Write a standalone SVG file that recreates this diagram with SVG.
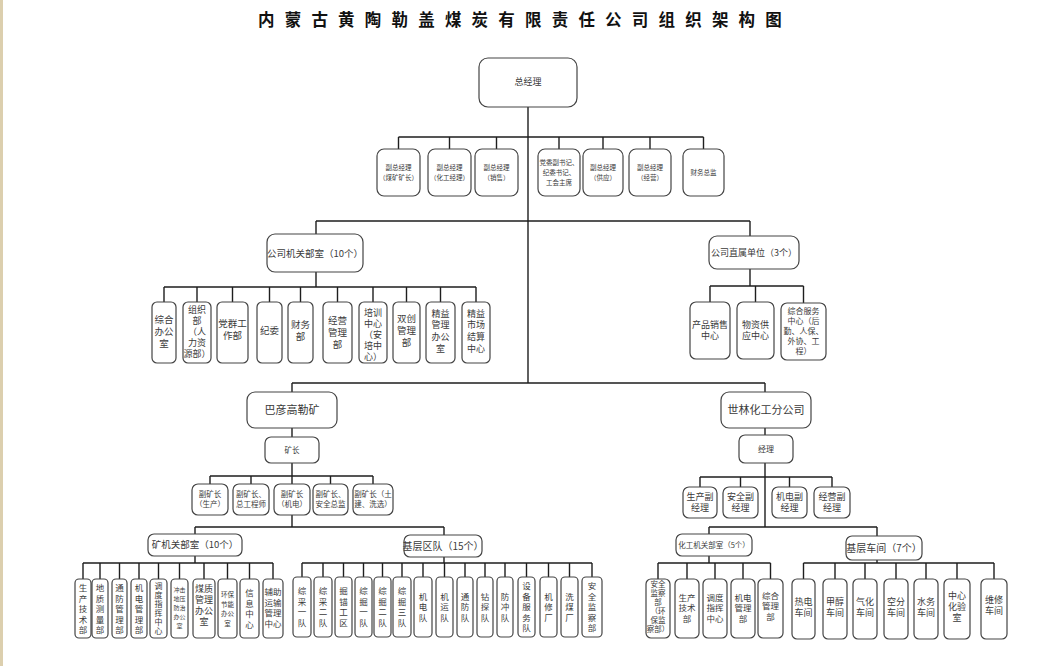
<svg xmlns="http://www.w3.org/2000/svg" width="1040" height="666" viewBox="0 0 1040 666">
<style>
.b{fill:#fff;stroke:#444;stroke-width:1.2}
.t{font-family:"Noto Sans CJK SC","Noto Sans CJK JP",sans-serif;fill:#3a3a3a;text-anchor:middle}
.c{stroke:#1e1e1e;stroke-width:1.4;fill:none}
.ttl{font-family:"Noto Sans CJK SC","Noto Sans CJK JP",sans-serif;fill:#111;font-weight:bold}
</style>
<rect width="1040" height="666" fill="#fff"/>
<rect x="0" y="0" width="3" height="666" fill="#dccfae"/>
<text class="ttl" x="258" y="26" font-size="16.5" letter-spacing="10.2">内蒙古黄陶勒盖煤炭有限责任公司组织架构图</text>

<g id="connectors" class="c">
<path d="M528 107V383 M398.5 137H703.5 M398.5 137V149 M449.5 137V149 M496.5 137V149 M559 137V149 M603 137V149 M650 137V149 M703.5 137V149
M316 221H750 M316 221V234 M750 221V236
M316 272V287 M164 287H476 M164 287V302 M197 287V302 M232.5 287V302 M269.5 287V302 M300.5 287V302 M337.5 287V302 M373 287V302 M406.5 287V302 M440.5 287V302 M476 287V302
M750 269V286 M710 286H803.5 M710 286V302 M755.5 286V302 M803.5 286V303
M292 383H765 M292 383V392 M765 383V392
M292 428V437 M292 463V484 M210 476H373 M210 476V484 M251 476V484 M330.5 476V484 M373 476V484 M292 515V527
M195 527H444 M195 527V534 M444 527V535
M195 556V563 M83 563H273 M83 563V579 M100 563V579 M119.5 563V579 M139 563V579 M158.5 563V579 M179.5 563V579 M204 563V579 M227.5 563V579 M249.5 563V579 M273 563V579
M444 557V563 M302 563H592 M302 563V577 M323 563V577 M343.5 563V577 M363.5 563V577 M382.5 563V577 M402 563V577 M423 563V577 M444.5 563V577 M465 563V577 M485 563V577 M505 563V577 M526.5 563V577 M548.5 563V577 M569.5 563V577 M592 563V577
M765 428V435 M765 463V527 M700 477H832 M700 477V487 M740.5 477V487 M789.5 477V487 M832 477V487
M709 527H877 M709 527V534 M877 527V536
M709 556V563 M658 563H770.5 M658 563V579 M687 563V579 M715 563V579 M743 563V579 M770.5 563V579
M877 560V563 M803.5 563H994 M803.5 563V579 M835 563V579 M865 563V579 M896 563V579 M926 563V579 M957 563V579 M994 563V579"/>
</g>

<g id="gm"><rect class="b" x="479" y="58" width="98" height="49" rx="9"/><text class="t" x="528" y="85" font-size="9">总经理</text></g>

<g id="e1"><rect class="b" x="377" y="149" width="43" height="47" rx="7"/><text class="t" font-size="6.5"><tspan x="398.5" y="169.8">副总经理</tspan><tspan x="398.5" y="179.8">（煤矿矿长）</tspan></text></g>
<g id="e2"><rect class="b" x="428" y="149" width="43" height="47" rx="7"/><text class="t" font-size="6.5"><tspan x="449.5" y="169.8">副总经理</tspan><tspan x="449.5" y="179.8">（化工经理）</tspan></text></g>
<g id="e3"><rect class="b" x="475" y="149" width="43" height="47" rx="7"/><text class="t" font-size="6.5"><tspan x="496.5" y="169.8">副总经理</tspan><tspan x="496.5" y="179.8">（销售）</tspan></text></g>
<g id="e4"><rect class="b" x="538" y="149" width="42" height="47" rx="7"/><text class="t" font-size="6.5"><tspan x="559" y="164.8">党委副书记、</tspan><tspan x="559" y="174.8">纪委书记、</tspan><tspan x="559" y="184.8">工会主席</tspan></text></g>
<g id="e5"><rect class="b" x="583" y="149" width="40" height="47" rx="7"/><text class="t" font-size="6.5"><tspan x="603" y="169.8">副总经理</tspan><tspan x="603" y="179.8">（供应）</tspan></text></g>
<g id="e6"><rect class="b" x="629" y="149" width="42" height="47" rx="7"/><text class="t" font-size="6.5"><tspan x="650" y="169.8">副总经理</tspan><tspan x="650" y="179.8">（经营）</tspan></text></g>
<g id="e7"><rect class="b" x="683" y="149" width="41" height="47" rx="7"/><text class="t" x="703.5" y="174.8" font-size="6.5">财务总监</text></g>

<g id="jg"><rect class="b" x="267" y="234" width="96" height="38" rx="8"/><text class="t" x="315" y="256.5" font-size="9.5">公司机关部室（10个）</text></g>
<g id="k1"><rect class="b" x="152" y="302" width="24" height="61" rx="5"/><text class="t" font-size="9.5"><tspan x="164" y="322.5">综合</tspan><tspan x="164" y="334.5">办公</tspan><tspan x="164" y="346.5">室</tspan></text></g>
<g id="k2"><rect class="b" x="183" y="302" width="28" height="61" rx="5"/><text class="t" font-size="9"><tspan x="197" y="313.2">组织</tspan><tspan x="197" y="324.2">部</tspan><tspan x="197" y="335.2">（人</tspan><tspan x="197" y="346.2">力资</tspan><tspan x="197" y="357.2">源部）</tspan></text></g>
<g id="k3"><rect class="b" x="217" y="302" width="31" height="61" rx="5"/><text class="t" font-size="9.5"><tspan x="232.5" y="327.3">党群工</tspan><tspan x="232.5" y="339.3">作部</tspan></text></g>
<g id="k4"><rect class="b" x="257" y="302" width="25" height="61" rx="5"/><text class="t" x="269.5" y="334" font-size="9.5">纪委</text></g>
<g id="k5"><rect class="b" x="288" y="302" width="25" height="61" rx="5"/><text class="t" font-size="9.5"><tspan x="300.5" y="327.5">财务</tspan><tspan x="300.5" y="340">部</tspan></text></g>
<g id="k6"><rect class="b" x="323" y="302" width="29" height="61" rx="5"/><text class="t" font-size="9.5"><tspan x="337.5" y="324.3">经营</tspan><tspan x="337.5" y="336.3">管理</tspan><tspan x="337.5" y="348.3">部</tspan></text></g>
<g id="k7"><rect class="b" x="359" y="302" width="28" height="61" rx="5"/><text class="t" font-size="9"><tspan x="373" y="315.5">培训</tspan><tspan x="373" y="326.5">中心</tspan><tspan x="373" y="337.5">（安</tspan><tspan x="373" y="348.5">培中</tspan><tspan x="373" y="359.5">心）</tspan></text></g>
<g id="k8"><rect class="b" x="393" y="302" width="27" height="61" rx="5"/><text class="t" font-size="9.5"><tspan x="406.5" y="322.3">双创</tspan><tspan x="406.5" y="334.3">管理</tspan><tspan x="406.5" y="346.3">部</tspan></text></g>
<g id="k9"><rect class="b" x="426" y="302" width="29" height="61" rx="5"/><text class="t" font-size="9"><tspan x="440.5" y="316.5">精益</tspan><tspan x="440.5" y="328.3">管理</tspan><tspan x="440.5" y="340.1">办公</tspan><tspan x="440.5" y="351.9">室</tspan></text></g>
<g id="k10"><rect class="b" x="462" y="302" width="28" height="61" rx="5"/><text class="t" font-size="9"><tspan x="476" y="316.5">精益</tspan><tspan x="476" y="328.3">市场</tspan><tspan x="476" y="340.1">结算</tspan><tspan x="476" y="351.9">中心</tspan></text></g>

<g id="zs"><rect class="b" x="709" y="236" width="90" height="33" rx="8"/><text class="t" x="754" y="255.6" font-size="9">公司直属单位（3个）</text></g>
<g id="z1"><rect class="b" x="690" y="302" width="40" height="57" rx="6"/><text class="t" font-size="9"><tspan x="710" y="328.1">产品销售</tspan><tspan x="710" y="339.1">中心</tspan></text></g>
<g id="z2"><rect class="b" x="737" y="302" width="37" height="57" rx="6"/><text class="t" font-size="9"><tspan x="755.5" y="328.1">物资供</tspan><tspan x="755.5" y="339.1">应中心</tspan></text></g>
<g id="z3"><rect class="b" x="781" y="303" width="45" height="57" rx="6"/><text class="t" font-size="8"><tspan x="803.5" y="314">综合服务</tspan><tspan x="803.5" y="324">中心（后</tspan><tspan x="803.5" y="334">勤、人保、</tspan><tspan x="803.5" y="344">外协、工</tspan><tspan x="803.5" y="354">程）</tspan></text></g>

<g id="bygl"><rect class="b" x="247" y="392" width="90" height="36" rx="8"/><text class="t" x="292" y="414" font-size="11">巴彦高勒矿</text></g>
<g id="kz"><rect class="b" x="265" y="437" width="54" height="26" rx="6"/><text class="t" x="292" y="452.6" font-size="7.5">矿长</text></g>
<g id="f1"><rect class="b" x="192" y="484" width="36" height="31" rx="6"/><text class="t" font-size="7.5"><tspan x="210" y="497.1">副矿长</tspan><tspan x="210" y="507.1">（生产）</tspan></text></g>
<g id="f2"><rect class="b" x="233" y="484" width="36" height="31" rx="6"/><text class="t" font-size="7.5"><tspan x="251" y="497.1">副矿长、</tspan><tspan x="251" y="507.1">总工程师</tspan></text></g>
<g id="f3"><rect class="b" x="274" y="484" width="36" height="31" rx="6"/><text class="t" font-size="7.5"><tspan x="292" y="497.1">副矿长</tspan><tspan x="292" y="507.1">（机电）</tspan></text></g>
<g id="f4"><rect class="b" x="313" y="484" width="35" height="31" rx="6"/><text class="t" font-size="7.5"><tspan x="330.5" y="497.1">副矿长、</tspan><tspan x="330.5" y="507.1">安全总监</tspan></text></g>
<g id="f5"><rect class="b" x="353" y="484" width="40" height="31" rx="6"/><text class="t" font-size="7.5"><tspan x="373" y="497.1">副矿长（土</tspan><tspan x="373" y="507.1">建、洗选）</tspan></text></g>

<g id="sl"><rect class="b" x="721" y="392" width="90" height="36" rx="8"/><text class="t" x="766" y="414" font-size="11">世林化工分公司</text></g>
<g id="jl"><rect class="b" x="739" y="435" width="54" height="28" rx="6"/><text class="t" x="766" y="451.8" font-size="8">经理</text></g>
<g id="g1"><rect class="b" x="683" y="487" width="34" height="31" rx="6"/><text class="t" font-size="9"><tspan x="700" y="500.2">生产副</tspan><tspan x="700" y="511.2">经理</tspan></text></g>
<g id="g2"><rect class="b" x="723" y="487" width="35" height="31" rx="6"/><text class="t" font-size="9"><tspan x="740.5" y="500.2">安全副</tspan><tspan x="740.5" y="511.2">经理</tspan></text></g>
<g id="g3"><rect class="b" x="772" y="487" width="35" height="31" rx="6"/><text class="t" font-size="9"><tspan x="789.5" y="500.2">机电副</tspan><tspan x="789.5" y="511.2">经理</tspan></text></g>
<g id="g4"><rect class="b" x="814" y="487" width="36" height="31" rx="6"/><text class="t" font-size="9"><tspan x="832" y="500.2">经营副</tspan><tspan x="832" y="511.2">经理</tspan></text></g>

<g id="kjg"><rect class="b" x="148" y="534" width="94" height="22" rx="6"/><text class="t" x="195" y="548.3" font-size="9.5">矿机关部室（10个）</text></g>
<g id="m1"><rect class="b" x="75" y="579" width="16" height="59" rx="4"/><text class="t" font-size="8.5"><tspan x="83" y="591">生</tspan><tspan x="83" y="601.5">产</tspan><tspan x="83" y="612">技</tspan><tspan x="83" y="622.5">术</tspan><tspan x="83" y="633">部</tspan></text></g>
<g id="m2"><rect class="b" x="92" y="579" width="16" height="59" rx="4"/><text class="t" font-size="8.5"><tspan x="100" y="591">地</tspan><tspan x="100" y="601.5">质</tspan><tspan x="100" y="612">测</tspan><tspan x="100" y="622.5">量</tspan><tspan x="100" y="633">部</tspan></text></g>
<g id="m3"><rect class="b" x="112" y="579" width="15" height="59" rx="4"/><text class="t" font-size="8.5"><tspan x="119.5" y="591">通</tspan><tspan x="119.5" y="601.5">防</tspan><tspan x="119.5" y="612">管</tspan><tspan x="119.5" y="622.5">理</tspan><tspan x="119.5" y="633">部</tspan></text></g>
<g id="m4"><rect class="b" x="131" y="579" width="16" height="59" rx="4"/><text class="t" font-size="8.5"><tspan x="139" y="591">机</tspan><tspan x="139" y="601.5">电</tspan><tspan x="139" y="612">管</tspan><tspan x="139" y="622.5">理</tspan><tspan x="139" y="633">部</tspan></text></g>
<g id="m5"><rect class="b" x="150" y="579" width="17" height="59" rx="4"/><text class="t" font-size="8"><tspan x="158.5" y="588.8">调</tspan><tspan x="158.5" y="597.8">度</tspan><tspan x="158.5" y="606.8">指</tspan><tspan x="158.5" y="615.8">挥</tspan><tspan x="158.5" y="624.8">中</tspan><tspan x="158.5" y="633.8">心</tspan></text></g>
<g id="m6"><rect class="b" x="171" y="579" width="17" height="59" rx="4"/><text class="t" font-size="6"><tspan x="179.5" y="592.1">冲击</tspan><tspan x="179.5" y="601.1">地压</tspan><tspan x="179.5" y="610.1">防治</tspan><tspan x="179.5" y="619.1">办公</tspan><tspan x="179.5" y="628.1">室</tspan></text></g>
<g id="m7"><rect class="b" x="193" y="579" width="22" height="59" rx="4"/><text class="t" font-size="9"><tspan x="204" y="591.7">煤质</tspan><tspan x="204" y="602.7">管理</tspan><tspan x="204" y="613.7">办公</tspan><tspan x="204" y="624.7">室</tspan></text></g>
<g id="m8"><rect class="b" x="218" y="579" width="19" height="59" rx="4"/><text class="t" font-size="6.5"><tspan x="227.5" y="597">环保</tspan><tspan x="227.5" y="606.5">节能</tspan><tspan x="227.5" y="616">办公</tspan><tspan x="227.5" y="625.5">室</tspan></text></g>
<g id="m9"><rect class="b" x="240" y="579" width="19" height="59" rx="4"/><text class="t" font-size="8.5"><tspan x="249.5" y="596.3">信</tspan><tspan x="249.5" y="606.8">息</tspan><tspan x="249.5" y="617.3">中</tspan><tspan x="249.5" y="627.8">心</tspan></text></g>
<g id="m10"><rect class="b" x="263" y="579" width="20" height="59" rx="4"/><text class="t" font-size="8.5"><tspan x="273" y="595.3">辅助</tspan><tspan x="273" y="605.8">运输</tspan><tspan x="273" y="616.3">管理</tspan><tspan x="273" y="626.8">中心</tspan></text></g>

<g id="jcqd"><rect class="b" x="404" y="535" width="78" height="22" rx="6"/><text class="t" x="443" y="549.5" font-size="10">基层区队（15个）</text></g>
<g id="q1"><rect class="b" x="293" y="577" width="18" height="60" rx="4"/><text class="t" font-size="8.5"><tspan x="302" y="594.3">综</tspan><tspan x="302" y="604.8">采</tspan><tspan x="302" y="615.3">一</tspan><tspan x="302" y="625.8">队</tspan></text></g>
<g id="q2"><rect class="b" x="314" y="577" width="18" height="60" rx="4"/><text class="t" font-size="8.5"><tspan x="323" y="594.3">综</tspan><tspan x="323" y="604.8">采</tspan><tspan x="323" y="615.3">二</tspan><tspan x="323" y="625.8">队</tspan></text></g>
<g id="q3"><rect class="b" x="335" y="577" width="17" height="60" rx="4"/><text class="t" font-size="8.5"><tspan x="343.5" y="594.3">掘</tspan><tspan x="343.5" y="604.8">锚</tspan><tspan x="343.5" y="615.3">工</tspan><tspan x="343.5" y="625.8">区</tspan></text></g>
<g id="q4"><rect class="b" x="355" y="577" width="17" height="60" rx="4"/><text class="t" font-size="8.5"><tspan x="363.5" y="594.3">综</tspan><tspan x="363.5" y="604.8">掘</tspan><tspan x="363.5" y="615.3">一</tspan><tspan x="363.5" y="625.8">队</tspan></text></g>
<g id="q5"><rect class="b" x="374" y="577" width="17" height="60" rx="4"/><text class="t" font-size="8.5"><tspan x="382.5" y="594.3">综</tspan><tspan x="382.5" y="604.8">掘</tspan><tspan x="382.5" y="615.3">二</tspan><tspan x="382.5" y="625.8">队</tspan></text></g>
<g id="q6"><rect class="b" x="393" y="577" width="18" height="60" rx="4"/><text class="t" font-size="8.5"><tspan x="402" y="594.3">综</tspan><tspan x="402" y="604.8">掘</tspan><tspan x="402" y="615.3">三</tspan><tspan x="402" y="625.8">队</tspan></text></g>
<g id="q7"><rect class="b" x="414" y="577" width="18" height="60" rx="4"/><text class="t" font-size="8.5"><tspan x="423" y="599.5">机</tspan><tspan x="423" y="610">电</tspan><tspan x="423" y="620.5">队</tspan></text></g>
<g id="q8"><rect class="b" x="436" y="577" width="17" height="60" rx="4"/><text class="t" font-size="8.5"><tspan x="444.5" y="599.5">机</tspan><tspan x="444.5" y="610">运</tspan><tspan x="444.5" y="620.5">队</tspan></text></g>
<g id="q9"><rect class="b" x="457" y="577" width="16" height="60" rx="4"/><text class="t" font-size="8.5"><tspan x="465" y="599.5">通</tspan><tspan x="465" y="610">防</tspan><tspan x="465" y="620.5">队</tspan></text></g>
<g id="q10"><rect class="b" x="477" y="577" width="16" height="60" rx="4"/><text class="t" font-size="8.5"><tspan x="485" y="599.5">钻</tspan><tspan x="485" y="610">探</tspan><tspan x="485" y="620.5">队</tspan></text></g>
<g id="q11"><rect class="b" x="497" y="577" width="16" height="60" rx="4"/><text class="t" font-size="8.5"><tspan x="505" y="599.5">防</tspan><tspan x="505" y="610">冲</tspan><tspan x="505" y="620.5">队</tspan></text></g>
<g id="q12"><rect class="b" x="518" y="577" width="17" height="60" rx="4"/><text class="t" font-size="8.5"><tspan x="526.5" y="589">设</tspan><tspan x="526.5" y="599.5">备</tspan><tspan x="526.5" y="610">服</tspan><tspan x="526.5" y="620.5">务</tspan><tspan x="526.5" y="631">队</tspan></text></g>
<g id="q13"><rect class="b" x="540" y="577" width="17" height="60" rx="4"/><text class="t" font-size="8.5"><tspan x="548.5" y="599.5">机</tspan><tspan x="548.5" y="610">修</tspan><tspan x="548.5" y="620.5">厂</tspan></text></g>
<g id="q14"><rect class="b" x="561" y="577" width="17" height="60" rx="4"/><text class="t" font-size="8.5"><tspan x="569.5" y="599.5">洗</tspan><tspan x="569.5" y="610">煤</tspan><tspan x="569.5" y="620.5">厂</tspan></text></g>
<g id="q15"><rect class="b" x="582" y="577" width="20" height="60" rx="4"/><text class="t" font-size="8.5"><tspan x="592" y="589">安</tspan><tspan x="592" y="599.5">全</tspan><tspan x="592" y="610">监</tspan><tspan x="592" y="620.5">察</tspan><tspan x="592" y="631">部</tspan></text></g>

<g id="hgjg"><rect class="b" x="676" y="534" width="76" height="22" rx="6"/><text class="t" x="714" y="547.6" font-size="7.5">化工机关部室（5个）</text></g>
<g id="h1"><rect class="b" x="646" y="579" width="24" height="59" rx="5"/><text class="t" font-size="7.5"><tspan x="658" y="587.1">安全</tspan><tspan x="658" y="596.1">监察</tspan><tspan x="658" y="605.1">部</tspan><tspan x="658" y="614.1">（环</tspan><tspan x="658" y="623.1">保监</tspan><tspan x="658" y="632.1">察部）</tspan></text></g>
<g id="h2"><rect class="b" x="675" y="579" width="24" height="59" rx="5"/><text class="t" font-size="8.5"><tspan x="687" y="600.5">生产</tspan><tspan x="687" y="611">技术</tspan><tspan x="687" y="621.5">部</tspan></text></g>
<g id="h3"><rect class="b" x="703" y="579" width="24" height="59" rx="5"/><text class="t" font-size="8.5"><tspan x="715" y="600.5">调度</tspan><tspan x="715" y="611">指挥</tspan><tspan x="715" y="621.5">中心</tspan></text></g>
<g id="h4"><rect class="b" x="731" y="579" width="24" height="59" rx="5"/><text class="t" font-size="8.5"><tspan x="743" y="600.5">机电</tspan><tspan x="743" y="611">管理</tspan><tspan x="743" y="621.5">部</tspan></text></g>
<g id="h5"><rect class="b" x="758" y="579" width="25" height="59" rx="5"/><text class="t" font-size="8.5"><tspan x="770.5" y="598.5">综合</tspan><tspan x="770.5" y="609">管理</tspan><tspan x="770.5" y="619.5">部</tspan></text></g>

<g id="jccj"><rect class="b" x="846" y="536" width="76" height="24" rx="6"/><text class="t" x="884" y="551.5" font-size="10">基层车间（7个）</text></g>
<g id="w1"><rect class="b" x="792" y="579" width="23" height="60" rx="5"/><text class="t" font-size="9"><tspan x="803.5" y="604.7">热电</tspan><tspan x="803.5" y="615.7">车间</tspan></text></g>
<g id="w2"><rect class="b" x="823" y="579" width="24" height="60" rx="5"/><text class="t" font-size="9"><tspan x="835" y="604.7">甲醇</tspan><tspan x="835" y="615.7">车间</tspan></text></g>
<g id="w3"><rect class="b" x="853" y="579" width="24" height="60" rx="5"/><text class="t" font-size="9"><tspan x="865" y="604.7">气化</tspan><tspan x="865" y="615.7">车间</tspan></text></g>
<g id="w4"><rect class="b" x="884" y="579" width="24" height="60" rx="5"/><text class="t" font-size="9"><tspan x="896" y="604.7">空分</tspan><tspan x="896" y="615.7">车间</tspan></text></g>
<g id="w5"><rect class="b" x="914" y="579" width="24" height="60" rx="5"/><text class="t" font-size="9"><tspan x="926" y="604.7">水务</tspan><tspan x="926" y="615.7">车间</tspan></text></g>
<g id="w6"><rect class="b" x="944" y="579" width="26" height="60" rx="5"/><text class="t" font-size="9"><tspan x="957" y="599.2">中心</tspan><tspan x="957" y="610.2">化验</tspan><tspan x="957" y="621.2">室</tspan></text></g>
<g id="w7"><rect class="b" x="981" y="579" width="26" height="60" rx="5"/><text class="t" font-size="9"><tspan x="994" y="602.7">维修</tspan><tspan x="994" y="613.7">车间</tspan></text></g>
</svg>
